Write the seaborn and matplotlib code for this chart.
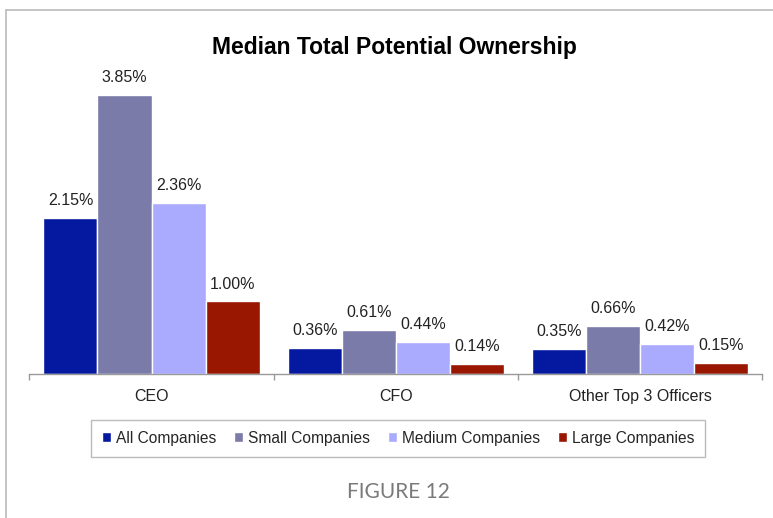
import matplotlib
matplotlib.use("Agg")
import matplotlib.pyplot as plt
from matplotlib.lines import Line2D
import seaborn as sns
import pandas as pd

categories = ["CEO", "CFO", "Other Top 3 Officers"]
series = ["All Companies", "Small Companies", "Medium Companies", "Large Companies"]
all_companies = [2.15, 0.36, 0.35]
small_companies = [3.85, 0.61, 0.66]
medium_companies = [2.36, 0.44, 0.42]
large_companies = [1.00, 0.14, 0.15]
colors = ["#0519A0", "#7B7BAA", "#AAAAFF", "#991600"]

rows = []
for s, vals in zip(series, [all_companies, small_companies, medium_companies, large_companies]):
    for c, v in zip(categories, vals):
        rows.append({"Role": c, "Group": s, "Value": v})
df = pd.DataFrame(rows)

sns.set_theme(style="white")
plt.rcParams['font.family'] = ['Liberation Sans', 'DejaVu Sans']

fig = plt.figure(figsize=(7.73, 5.18), dpi=100)
ax = fig.add_axes([0.038, 0.278, 0.948, 0.588])
sns.barplot(data=df, x="Role", y="Value", hue="Group", palette=colors, ax=ax,
            width=0.885, edgecolor="white", linewidth=1, saturation=1)

for cont in ax.containers:
    ax.bar_label(cont, labels=[f"{v:.2f}%" for v in cont.datavalues], padding=7,
                 fontsize=11.5, color="#222222")

ax.set_ylim(0, 4.2)
ax.set_xlim(-0.5, 2.5)
ax.set_xlabel("")
ax.set_ylabel("")
ax.set_yticks([])
for sp in ["top", "left", "right"]:
    ax.spines[sp].set_visible(False)
ax.spines["bottom"].set_color("#999999")
ax.spines["bottom"].set_linewidth(1)
ax.set_xticks([-0.5, 0.5, 1.5, 2.5], minor=True)
ax.tick_params(axis="x", which="minor", length=4, color="#999999", width=1, bottom=True)
ax.tick_params(axis="x", which="major", length=0, pad=11, labelsize=11.5, labelcolor="#222222")

leg = ax.get_legend()
handles = leg.legend_handles
leg.remove()
fig.legend(handles, series, loc="center", bbox_to_anchor=(0.515, 0.154), ncol=4,
           frameon=True, fancybox=False, edgecolor="#AAAAAA", handlelength=0.6,
           handleheight=0.6, handletextpad=0.3, columnspacing=1.15,
           prop={"size": 11.2}, borderpad=0.7)

fig.suptitle("Median Total Potential Ownership", x=0.51, y=0.93, fontsize=16.5,
             fontweight="bold", color="black")
fig.text(0.515, 0.05, "FIGURE 12", ha="center", va="center", fontsize=15,
         color="#7A7A7A", family=['Lato', 'DejaVu Sans'])

fig.add_artist(Line2D([0.0078, 1.0], [0.981, 0.981], color="#BBBBBB", lw=1.2, transform=fig.transFigure))
fig.add_artist(Line2D([0.0078, 0.0078], [0.0, 0.981], color="#BBBBBB", lw=1.2, transform=fig.transFigure))

fig.savefig("out.png", dpi=100)
